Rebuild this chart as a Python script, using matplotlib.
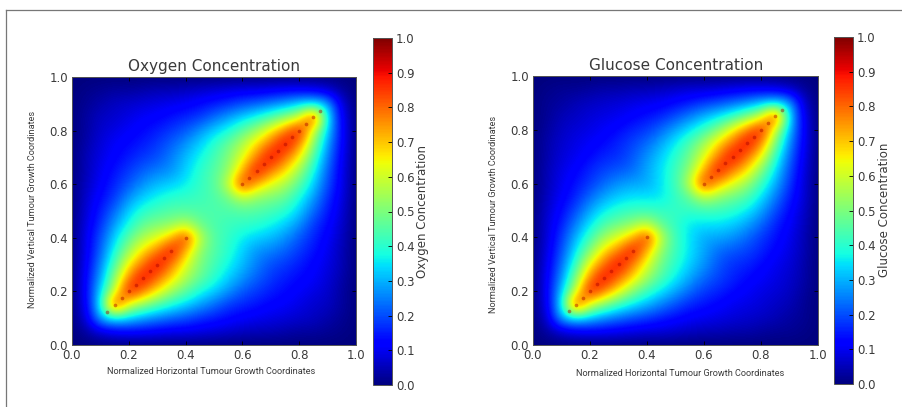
import numpy as np
import matplotlib
matplotlib.use('Agg')
import matplotlib.pyplot as plt
from matplotlib.lines import Line2D

W, H = 903, 407

# upper triangle of the field, 0.05 grid, first row y=0.05, each row starts on the diagonal
oxygen_rows = [
    [.03, .08, .11, .12, .12, .11, .10, .10, .09, .08, .07, .06, .05, .05, .04, .03, .03, .02, .01],
    [.30, .35, .33, .28, .25, .22, .20, .17, .15, .13, .11, .10, .09, .08, .07, .06, .04],
    [.92, .60, .52, .44, .38, .33, .28, .23, .18, .16, .14, .12, .11, .09, .07],
    [.92, .78, .66, .54, .46, .38, .33, .27, .21, .18, .15, .13, .11],
    [.92, .80, .68, .56, .47, .40, .33, .27, .22, .18, .15],
    [.92, .78, .62, .50, .43, .37, .31, .25, .20],
    [.92, .72, .52, .45, .40, .33, .27],
    [.88, .58, .45, .41, .36],
    [.48, .44, .42],
    [.44],
]
glucose_rows = [
    [.03, .07, .10, .11, .11, .10, .09, .08, .08, .07, .06, .05, .05, .04, .04, .03, .02, .02, .01],
    [.30, .34, .31, .26, .23, .20, .18, .15, .13, .11, .10, .09, .08, .07, .06, .05, .03],
    [.92, .60, .50, .41, .35, .30, .25, .20, .16, .14, .12, .10, .09, .08, .06],
    [.92, .78, .65, .51, .42, .35, .29, .23, .18, .16, .13, .11, .09],
    [.92, .80, .68, .54, .44, .36, .29, .23, .19, .16, .13],
    [.92, .78, .62, .48, .40, .33, .27, .21, .17],
    [.92, .72, .52, .42, .35, .29, .23],
    [.88, .58, .42, .35, .29],
    [.46, .41, .35],
    [.41],
]
source_points = [.125, .15, .175, .2, .225, .25, .275, .3, .325, .35, .4,
                 .6, .625, .65, .675, .7, .725, .75, .775, .8, .825, .85, .875]
cbar_ticks = [0.0, 0.1, 0.2, 0.3, 0.4, 0.5, 0.6, 0.7, 0.8, 0.9, 1.0]
axis_ticks = [0.0, 0.2, 0.4, 0.6, 0.8, 1.0]

TEXT = '#3a3a3a'


def mirror(rows):
    # the field looks the same across both diagonals
    grid = np.zeros((21, 21))
    for k, row in enumerate(rows):
        i = k + 1
        for n, v in enumerate(row):
            j = i + n
            grid[i, j] = grid[j, i] = v
            grid[20 - j, 20 - i] = grid[20 - i, 20 - j] = v
    return grid


def box(x0, y0, x1, y1):
    return [x0 / W, 1 - y1 / H, (x1 - x0) / W, (y1 - y0) / H]


def px_text(x, y, s, **kw):
    fig.text(x / W, 1 - y / H, s, ha='center', va='center', color=TEXT, **kw)


def panel(rows, name, ax_box, cb_box, title_xy, xlab_xy, ylab_xy, cblab_xy):
    ax = fig.add_axes(box(*ax_box))
    im = ax.imshow(mirror(rows), origin='lower', extent=(-.025, 1.025, -.025, 1.025),
                   cmap='jet', vmin=0, vmax=1, interpolation='bicubic', aspect='auto')
    ax.scatter(source_points, source_points, s=7, color='#a80000', linewidths=0, alpha=.45)
    ax.set_xlim(0, 1)
    ax.set_ylim(0, 1)
    ax.set_xticks(axis_ticks)
    ax.set_yticks(axis_ticks)
    ax.tick_params(direction='in', top=True, right=True, length=3, width=.6,
                   labelsize=8.5, labelcolor=TEXT, pad=3)
    for s in ax.spines.values():
        s.set_linewidth(.7)
        s.set_color('#555555')

    cax = fig.add_axes(box(*cb_box))
    cb = fig.colorbar(im, cax=cax, ticks=cbar_ticks)
    cb.ax.tick_params(direction='in', length=3, width=.6, labelsize=8.5, labelcolor=TEXT, pad=3)
    cb.outline.set_linewidth(.7)
    cb.outline.set_edgecolor('#555555')

    px_text(*title_xy, name, fontsize=11)
    px_text(*xlab_xy, 'Normalized Horizontal Tumour Growth Coordinates', fontsize=6.6, family='Roboto')
    px_text(*ylab_xy, 'Normalized Vertical Tumour Growth Coordinates', fontsize=6.6, family='Roboto', rotation=90)
    px_text(*cblab_xy, name, fontsize=8.5, rotation=90)


fig = plt.figure(figsize=(W / 100, H / 100), dpi=100)

panel(oxygen_rows, 'Oxygen Concentration', (72, 77, 356, 345), (373, 38, 392, 385),
      (214, 67), (211, 372), (33, 209), (423, 211))
panel(glucose_rows, 'Glucose Concentration', (533, 76, 818, 345), (834, 37, 853, 384),
      (676, 66), (680, 374), (494, 214), (885, 210))

# frame of the source picture
fig.add_artist(Line2D([6 / W, 1], [1 - 10 / H, 1 - 10 / H], color='#777777', lw=.9))
fig.add_artist(Line2D([6 / W, 6 / W], [0, 1 - 10 / H], color='#777777', lw=.9))

fig.savefig('out.png', dpi=100)
